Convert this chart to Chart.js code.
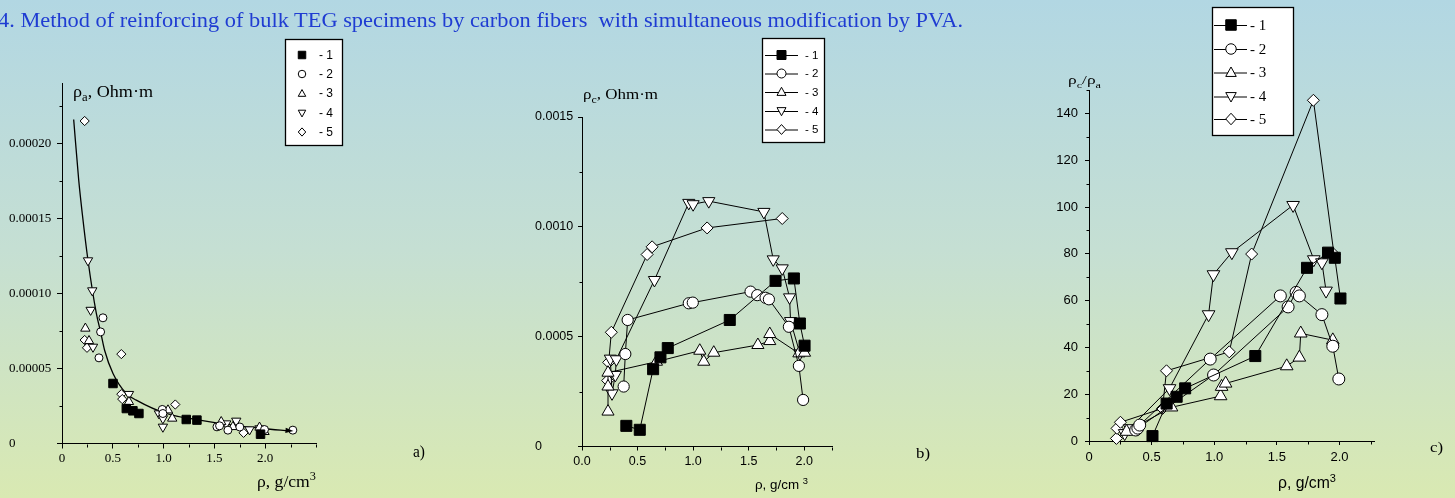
<!DOCTYPE html>
<html><head><meta charset="utf-8">
<script src="https://cdn.jsdelivr.net/npm/chart.js@4"></script>
<style>
html,body{margin:0;padding:0;}
body{width:1455px;height:498px;overflow:hidden;position:relative;
background:linear-gradient(to bottom,#b2d7e3 0%,#c5dfd3 50%,#d9e9b2 100%);}
canvas{position:absolute;top:0;}
.t{position:absolute;white-space:nowrap;line-height:1;transform-origin:0 0;color:#000;}
sub,sup{font-size:70%;line-height:0;}
</style></head>
<body>
<canvas id="ca" width="440" height="498" style="left:0px"></canvas>
<canvas id="cb" width="450" height="498" style="left:500px"></canvas>
<canvas id="cc" width="415" height="498" style="left:1040px"></canvas>
<script>
// ---------- DATA ----------
// Panel a) rho_a vs density (markers only) + fitted curve
const A1 = [[0.502,0.000040],[0.633,0.0000233],[0.698,0.0000218],[0.757,0.0000200],[1.223,0.0000160],[1.328,0.0000156],[1.954,0.0000062]];
const A2 = [[0.403,0.0000838],[0.380,0.0000744],[0.364,0.0000571],[0.987,0.0000227],[0.993,0.0000200],[1.525,0.0000111],[1.551,0.0000118],[1.633,0.0000089],[1.750,0.0000110],[1.993,0.0000093],[2.272,0.0000089]];
const A3 = [[0.230,0.0000767],[0.266,0.0000684],[0.659,0.0000278],[1.043,0.0000222],[1.085,0.0000167],[1.567,0.0000144],[1.682,0.0000111],[1.944,0.0000107],[1.993,0.0000078]];
const A4 = [[0.256,0.000122],[0.298,0.000102],[0.282,0.000089],[0.305,0.0000644],[0.659,0.0000329],[0.954,0.0000200],[0.993,0.0000111],[0.993,0.0000167],[1.616,0.0000133],[1.715,0.0000151],[1.846,0.0000093],[1.944,0.0000100]];
const A5 = [[0.223,0.000215],[0.223,0.000069],[0.246,0.0000638],[0.584,0.0000596],[0.584,0.0000329],[0.593,0.0000296],[1.115,0.0000260],[1.787,0.0000071]];
const AFIT = [[0.115,0.000216],[0.164,0.000176],[0.200,0.000153],[0.256,0.000122],[0.338,0.0000867],[0.380,0.0000744],[0.420,0.0000620],[0.502,0.0000467],[0.633,0.0000333],[0.731,0.0000289],[1.026,0.0000200],[1.354,0.0000156],[1.682,0.0000122],[1.977,0.0000100],[2.239,0.0000084]];
// Panel b) rho_c vs density
const B1 = [[0.399,0.000094],[0.520,0.000076],[0.640,0.000352],[0.706,0.000406],[0.772,0.000448],[1.330,0.000576],[1.742,0.000754],[1.907,0.000765],[1.961,0.000560],[2.003,0.000459]];
const B2 = [[0.375,0.000273],[0.390,0.000421],[0.411,0.000576],[0.961,0.000652],[0.997,0.000655],[1.517,0.000705],[1.577,0.000689],[1.652,0.000677],[1.682,0.000670],[1.862,0.000545],[1.952,0.000367],[1.990,0.000212]];
const B3 = [[0.234,0.000159],[0.234,0.000273],[0.234,0.000336],[0.670,0.000386],[1.060,0.000436],[1.096,0.000386],[1.186,0.000427],[1.583,0.000462],[1.690,0.000480],[1.690,0.000512],[1.952,0.000424],[2.003,0.000427]];
const B4 = [[0.255,0.000400],[0.270,0.000242],[0.300,0.000326],[0.309,0.000397],[0.652,0.000758],[0.961,0.001109],[1.000,0.001103],[1.141,0.001117],[1.637,0.001068],[1.721,0.000852],[1.802,0.000811],[1.868,0.000679],[1.877,0.000571],[1.961,0.000424]];
const B5 = [[0.231,0.000300],[0.240,0.000383],[0.264,0.000520],[0.586,0.000874],[0.631,0.000909],[1.126,0.000995],[1.802,0.001038]];
// Panel c) rho_c / rho_a vs density (null = break in line)
const C1 = [[0.507,2.1],[0.620,16.0],[0.700,18.9],[0.768,22.5],[1.328,36.3],[1.741,74.0],[1.909,80.5],[1.963,78.3],[2.008,60.9]];
const C2 = [[0.373,4.7],[0.390,5.5],[0.995,28.2],[1.590,57.3],[1.654,63.5],[1.680,62.0],[1.860,54.0],[1.947,40.5],[1.995,26.5],null,[0.405,6.8],[0.968,35.0],[1.528,62.0]];
const C3 = [[0.300,4.0],[0.659,14.4],[1.051,19.2],[1.059,23.2],[1.091,24.6],[1.579,32.0],[1.680,35.7],[1.691,46.0],[1.947,43.1]];
const C4 = [[0.285,3.3],[0.325,5.4],[0.643,22.5],[0.955,54.1],[0.994,71.2],[1.141,80.6],[1.630,100.8],[1.795,77.6],[1.860,76.3],[1.893,64.2]];
const C5 = [[0.219,1.1],[0.224,5.4],[0.251,8.0],[0.587,13.9],[0.619,30.0],[1.120,38.1],[1.299,79.9],[1.792,145.6],[1.957,79.7]];

// Ticks
const A_XTICKS = [0,0.5,1,1.5,2];           const A_XLABELS = ['0','0.5','1.0','1.5','2.0'];
const A_YTICKS = [0,0.00005,0.0001,0.00015,0.0002]; const A_YLABELS = ['0','0.00005','0.00010','0.00015','0.00020'];
const A_XMINOR = [0.25,0.75,1.25,1.75,2.25,2.5];
const A_YMINOR = [0.000025,0.000075,0.000125,0.000175,0.000225];
const B_XTICKS = [0,0.5,1,1.5,2];           const B_XLABELS = ['0.0','0.5','1.0','1.5','2.0'];
const B_YTICKS = [0,0.0005,0.001,0.0015];   const B_YLABELS = ['0','0.0005','0.0010','0.0015'];
const B_XMINOR = [0.25,0.75,1.25,1.75,2.25];
const B_YMINOR = [0.00025,0.00075,0.00125];
const C_XTICKS = [0,0.5,1,1.5,2];           const C_XLABELS = ['0','0.5','1.0','1.5','2.0'];
const C_YTICKS = [0,20,40,60,80,100,120,140]; const C_YLABELS = ['0','20','40','60','80','100','120','140'];
const C_XMINOR = [0.25,0.75,1.25,1.75,2.25];
const C_YMINOR = [10,30,50,70,90,110,130,150];
const LEGEND_LABELS = ['- 1','- 2','- 3','- 4','- 5'];

// ---------- STYLE ----------
const SERIF = '"Liberation Serif","Times New Roman",serif';
const SANS = '"Liberation Sans",Arial,sans-serif';
const STYLES = [
  {ps:'rect', fill:'#000', rot:0},
  {ps:'circle', fill:'#fff', rot:0},
  {ps:'triangle', fill:'#fff', rot:0},
  {ps:'triangle', fill:'#fff', rot:180},
  {ps:'rectRot', fill:'#fff', rot:0}
];
const toXY = arr => arr.map(p => p ? {x:p[0], y:p[1]} : {x:1, y:null});

function ds(data, i, r, line) {
  return {data: toXY(data), showLine: line, borderColor:'#000', borderWidth:1,
    pointStyle: STYLES[i].ps, pointRotation: STYLES[i].rot, pointRadius: r, pointHoverRadius: r,
    pointBackgroundColor: STYLES[i].fill, pointBorderColor:'#000', pointBorderWidth:1,
    clip:false, spanGaps:false, tension:0};
}

function scale(o) {
  return {
    type:'linear', position:o.pos, min:o.min, max:o.max,
    afterBuildTicks: s => { s.ticks = o.ticks.map(v => ({value:v})); },
    afterFit: s => { if (o.pos === 'left') s.width = o.size; else s.height = o.size; },
    ticks: {autoSkip:false, maxRotation:0, minRotation:0, padding:o.pad, color:'#000',
      font:{family:o.fam, size:o.fs}, crossAlign:o.cross || 'near', callback:(v,i) => o.labels[i]},
    grid: {display:true, drawOnChartArea:false, drawTicks:true, tickLength:o.tl || 4, tickColor:'#000', tickWidth:1},
    border: {display:true, color:'#000', width:1}
  };
}

function drawMarker(ctx, i, x, y, s) {
  ctx.beginPath();
  const h = s/2;
  if (i === 0) { ctx.rect(x-h, y-h, s, s); }
  else if (i === 1) { ctx.arc(x, y, h, 0, Math.PI*2); }
  else if (i === 2) { ctx.moveTo(x, y-h*1.05); ctx.lineTo(x+h, y+h*0.75); ctx.lineTo(x-h, y+h*0.75); ctx.closePath(); }
  else if (i === 3) { ctx.moveTo(x, y+h*1.05); ctx.lineTo(x+h, y-h*0.75); ctx.lineTo(x-h, y-h*0.75); ctx.closePath(); }
  else { ctx.moveTo(x, y-h*1.1); ctx.lineTo(x+h, y); ctx.lineTo(x, y+h*1.1); ctx.lineTo(x-h, y); ctx.closePath(); }
  ctx.fillStyle = STYLES[i].fill; ctx.fill();
  ctx.strokeStyle = '#000'; ctx.lineWidth = 1; ctx.stroke();
}

const boxLegend = {
  id:'boxLegend',
  afterDraw(chart, args, o) {
    const ctx = chart.ctx, dx = o.off;
    ctx.save();
    ctx.fillStyle = '#fff'; ctx.fillRect(o.x-dx, o.y, o.w, o.h);
    ctx.strokeStyle = '#000'; ctx.lineWidth = 1.3; ctx.strokeRect(o.x-dx+0.5, o.y+0.5, o.w, o.h);
    o.rows.forEach((ry, i) => {
      if (o.line) { ctx.beginPath(); ctx.lineWidth = 1; ctx.strokeStyle = '#000';
        ctx.moveTo(o.line[0]-dx, ry+0.5); ctx.lineTo(o.line[1]-dx, ry+0.5); ctx.stroke(); }
      drawMarker(ctx, i, o.mx-dx, ry, o.ms);
      ctx.fillStyle = '#000'; ctx.font = o.font; ctx.textBaseline = 'middle'; ctx.textAlign = 'left';
      ctx.fillText(LEGEND_LABELS[i], o.tx-dx, ry + (o.ty || 0));
    });
    ctx.restore();
  }
};

const minorTicks = {
  id:'minorTicks',
  afterDraw(chart, args, o) {
    const ctx = chart.ctx, xs = chart.scales.x, ys = chart.scales.y;
    const x0 = Math.round(xs.left) + 0.5, y0 = Math.round(ys.bottom) + 0.5;
    ctx.save(); ctx.strokeStyle = '#000'; ctx.lineWidth = 1; ctx.beginPath();
    o.x.forEach(v => { const px = Math.round(xs.getPixelForValue(v)) + 0.5; ctx.moveTo(px, y0); ctx.lineTo(px, y0 + o.len); });
    o.y.forEach(v => { const py = Math.round(ys.getPixelForValue(v)) + 0.5; ctx.moveTo(x0, py); ctx.lineTo(x0 - o.len, py); });
    ctx.stroke(); ctx.restore();
  }
};

const arrowHead = {
  id:'arrowHead',
  afterDatasetsDraw(chart, args, o) {
    const meta = chart.getDatasetMeta(o.index);
    const pts = meta.data; if (pts.length < 2) return;
    const a = pts[pts.length-2], b = pts[pts.length-1];
    const ang = Math.atan2(b.y - a.y, b.x - a.x);
    const ctx = chart.ctx; ctx.save();
    ctx.translate(b.x + 2, b.y); ctx.rotate(ang);
    ctx.beginPath(); ctx.moveTo(2, 0); ctx.lineTo(-6, -2.6); ctx.lineTo(-6, 2.6); ctx.closePath();
    ctx.fillStyle = '#000'; ctx.fill(); ctx.restore();
  }
};

const base = {responsive:false, animation:false, events:[], maintainAspectRatio:false};

// ---------- Panel a ----------
new Chart(document.getElementById('ca'), {
  type:'scatter',
  data:{datasets:[
    ds(A1,0,6,false), ds(A2,1,4,false), ds(A3,2,5.4,false), ds(A4,3,5.4,false), ds(A5,4,4.6,false),
    {data:toXY(AFIT), showLine:true, pointRadius:0, pointHoverRadius:0, borderColor:'#000', borderWidth:1.3,
     cubicInterpolationMode:'monotone', clip:false}
  ]},
  options:Object.assign({}, base, {
    layout:{autoPadding:false, padding:{left:9, top:83.5, right:124, bottom:0}},
    scales:{
      x: scale({pos:'bottom', min:0, max:2.5, ticks:A_XTICKS, labels:A_XLABELS, size:54.5, pad:2, fam:SERIF, fs:13, tl:5}),
      y: scale({pos:'left', min:0, max:0.00024, ticks:A_YTICKS, labels:A_YLABELS, size:53, pad:2, fam:SERIF, fs:13, cross:'far', tl:5})
    },
    plugins:{legend:{display:false}, tooltip:{enabled:false},
      minorTicks:{x:A_XMINOR, y:A_YMINOR, len:3},
      arrowHead:{index:5},
      boxLegend:{off:0, x:285, y:39, w:57, h:106, rows:[55,74,93.5,113,132], mx:302, ms:7.5, tx:319, ty:0.5, font:'12px '+SANS}
    }
  }),
  plugins:[minorTicks, arrowHead, boxLegend]
});

// ---------- Panel b ----------
new Chart(document.getElementById('cb'), {
  type:'scatter',
  data:{datasets:[
    ds(B1,0,7.8,true), ds(B2,1,5.6,true), ds(B3,2,7,true), ds(B4,3,7,true), ds(B5,4,6,true)
  ]},
  options:Object.assign({}, base, {
    layout:{autoPadding:false, padding:{left:35, top:117, right:118, bottom:0}},
    scales:{
      x: scale({pos:'bottom', min:0, max:2.25, ticks:B_XTICKS, labels:B_XLABELS, size:51.5, pad:4, fam:SANS, fs:12.5}),
      y: scale({pos:'left', min:0, max:0.0015, ticks:B_YTICKS, labels:B_YLABELS, size:47, pad:2, fam:SANS, fs:12.5, cross:'far'})
    },
    plugins:{legend:{display:false}, tooltip:{enabled:false},
      minorTicks:{x:B_XMINOR, y:B_YMINOR, len:3},
      boxLegend:{off:500, x:762, y:38, w:62, h:104, line:[765,798], rows:[55,73.5,92,111,129.5], mx:781.5, ms:9, tx:805, ty:0.5, font:'11.5px '+SANS}
    }
  }),
  plugins:[minorTicks, boxLegend]
});

// ---------- Panel c ----------
new Chart(document.getElementById('cc'), {
  type:'scatter',
  data:{datasets:[
    ds(C1,0,7.8,true), ds(C2,1,6,true), ds(C3,2,7.3,true), ds(C4,3,7.3,true), ds(C5,4,6,true)
  ]},
  options:Object.assign({}, base, {
    layout:{autoPadding:false, padding:{left:0, top:90, right:80.5, bottom:0}},
    scales:{
      x: scale({pos:'bottom', min:0, max:2.28, ticks:C_XTICKS, labels:C_XLABELS, size:57, pad:5, fam:SANS, fs:13}),
      y: scale({pos:'left', min:0, max:150, ticks:C_YTICKS, labels:C_YLABELS, size:49, pad:7, fam:SANS, fs:13})
    },
    plugins:{legend:{display:false}, tooltip:{enabled:false},
      minorTicks:{x:C_XMINOR, y:C_YMINOR, len:3},
      boxLegend:{off:1040, x:1212, y:7, w:81, h:128, line:[1214,1247], rows:[25,49,72.5,96.5,119], mx:1231, ms:10.5, tx:1250, ty:1, font:'15px '+SERIF}
    }
  }),
  plugins:[minorTicks, boxLegend]
});

// ---------- Text ----------
function label(html, fam, size, left, baseline, width, color) {
  const d = document.createElement('div');
  d.className = 't'; d.innerHTML = html;
  d.style.fontFamily = fam; d.style.fontSize = size + 'px';
  d.style.left = left + 'px'; d.style.top = (baseline - 0.84*size) + 'px';
  if (color) d.style.color = color;
  document.body.appendChild(d);
  if (width) { const w = d.getBoundingClientRect().width; if (w > 0) d.style.transform = 'scaleX(' + (width/w) + ')'; }
}
label('4. Method of reinforcing of bulk TEG specimens by carbon fibers&nbsp; with simultaneous modification by PVA.', SERIF, 21, -2, 28, 965, '#1f3cd2');
label('ρ<sub>a</sub>, Ohm·m', SERIF, 17, 73, 97, 80);
label('ρ, g/cm<sup>3</sup>', SERIF, 17, 257, 487, 59);
label('a)', SERIF, 16, 413, 457, 12);
label('ρ<sub>c</sub>, Ohm·m', SERIF, 15, 583, 100, 75);
label('ρ, g/cm <sup>3</sup>', SANS, 13, 755, 489, 53);
label('b)', SERIF, 14, 916, 459, 14);
label('ρ<sub>c</sub>/ρ<sub>a</sub>', SERIF, 13, 1068, 84, 33);
label('ρ, g/cm<sup>3</sup>', SANS, 16, 1278, 488, 58);
label('c)', SERIF, 15, 1430, 453, 13);
</script>
</body></html>
